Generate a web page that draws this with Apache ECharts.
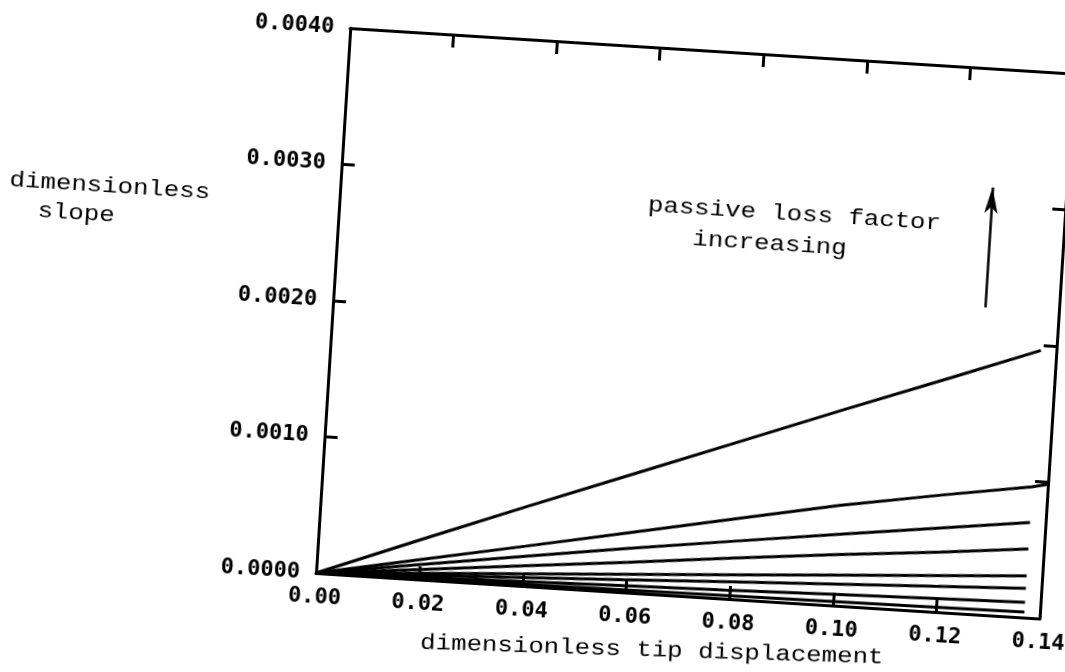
<!DOCTYPE html>
<html>
<head>
<meta charset="utf-8">
<script src="https://cdn.jsdelivr.net/npm/echarts@6/dist/echarts.min.js"></script>
<style>
html, body { margin:0; padding:0; background:#fff; overflow:hidden; width:1065px; height:672px; }
/* the scanned figure is tilted a little, so the whole chart is turned about its origin */
#main { position:absolute; left:-60px; top:-60px; width:1185px; height:792px;
        transform-origin:376px 633px; transform:rotate(3.6deg); }
</style>
</head>
<body>
<div id="main"></div>
<script>
// dimensionless tip displacement
var tipX = [0, 0.02, 0.04, 0.06, 0.08, 0.10, 0.12, 0.137, 0.14];

// dimensionless slope, one curve per passive loss factor (top to bottom)
var loss1 = [0, 0.000295, 0.000585, 0.000870, 0.001155, 0.001440, 0.001720, 0.001960];
var loss2 = [0, 0.000146, 0.000292, 0.000440, 0.000588, 0.000735, 0.000860, 0.000960, 0.000985];
var loss3 = [0, 0.000110, 0.000218, 0.000324, 0.000424, 0.000522, 0.000617, 0.000698];
var loss4 = [0, 0.000074, 0.000148, 0.000222, 0.000300, 0.000373, 0.000440, 0.000503];
var loss5 = [0, 0.000045, 0.000089, 0.000134, 0.000178, 0.000223, 0.000267, 0.000305];
var loss6 = [0, 0.000031, 0.000063, 0.000094, 0.000126, 0.000157, 0.000188, 0.000215];
var loss7 = [0, 0.000016, 0.000033, 0.000049, 0.000065, 0.000082, 0.000098, 0.000112];
var loss8 = [0, 0.000006, 0.000012, 0.000018, 0.000024, 0.000029, 0.000035, 0.000040];
var curves = [loss1, loss2, loss3, loss4, loss5, loss6, loss7, loss8];

// annotation arrow, in data units
var arrowX = 0.1257;
var arrowFrom = 0.00225;
var arrowTo = 0.00313;

var typeFont = '"Liberation Mono", monospace';
var tickFont = '"DejaVu Sans Mono", monospace';

function pairs(ys) {
	return tipX.map(function (x, i) {
		return [x, ys[i] === undefined ? '-' : ys[i]];
	});
}

var myChart = echarts.init(document.getElementById('main'));

var series = curves.map(function (ys, k) {
	var s = {
		type: 'line',
		data: pairs(ys),
		showSymbol: false,
		silent: true,
		connectNulls: false,
		lineStyle: { color: '#000', width: 3 }
	};
	if (k === 0) {
		s.markLine = {
			silent: true,
			symbol: ['none', 'arrow'],
			symbolSize: [10, 26],
			label: { show: false },
			lineStyle: { color: '#000', width: 2.5, type: 'solid' },
			data: [[{ coord: [arrowX, arrowFrom] }, { coord: [arrowX, arrowTo] }]]
		};
	}
	return s;
});

var axisLine = { onZero: false, lineStyle: { color: '#000', width: 3 } };
var inTick = { show: true, inside: true, length: 13, lineStyle: { color: '#000', width: 3 } };

option = {
	backgroundColor: '#fff',
	animation: false,
	grid: { left: 376, top: 87, width: 725, height: 546, outerBoundsMode: 'none' },
	xAxis: [{
		type: 'value', min: 0, max: 0.14, interval: 0.02,
		axisLine: axisLine, axisTick: inTick, splitLine: { show: false },
		axisLabel: {
			color: '#000', fontFamily: tickFont, fontWeight: 'bold', fontSize: 22, margin: 13,
			formatter: function (v) { return v.toFixed(2); }
		}
	}, {
		type: 'value', position: 'top', min: 0, max: 0.14, interval: 0.02,
		axisLine: axisLine, axisTick: inTick, splitLine: { show: false },
		axisLabel: { show: false }
	}],
	yAxis: [{
		type: 'value', min: 0, max: 0.004, interval: 0.001,
		axisLine: axisLine, axisTick: inTick, splitLine: { show: false },
		axisLabel: {
			color: '#000', fontFamily: tickFont, fontWeight: 'bold', fontSize: 22, margin: 16,
			formatter: function (v) { return v.toFixed(4); }
		}
	}, {
		type: 'value', position: 'right', min: 0, max: 0.004, interval: 0.001,
		axisLine: axisLine, axisTick: inTick, splitLine: { show: false },
		axisLabel: { show: false }
	}],
	graphic: [
		{ type: 'text', x: 146, y: 260, scaleX: 1.17, style: { text: 'dimensionless', font: '22px ' + typeFont, fill: '#000', align: 'center', verticalAlign: 'middle' } },
		{ type: 'text', x: 114, y: 289, scaleX: 1.17, style: { text: 'slope', font: '22px ' + typeFont, fill: '#000', align: 'center', verticalAlign: 'middle' } },
		{ type: 'text', x: 716, y: 689, rotation: 0.031, scaleX: 1.17, style: { text: 'dimensionless tip displacement', font: '22px ' + typeFont, fill: '#000', align: 'center', verticalAlign: 'middle' } },
		{ type: 'text', x: 831, y: 245, scaleX: 1.17, style: { text: 'passive loss factor', font: '22px ' + typeFont, fill: '#000', align: 'center', verticalAlign: 'middle' } },
		{ type: 'text', x: 808, y: 276, scaleX: 1.17, style: { text: 'increasing', font: '22px ' + typeFont, fill: '#000', align: 'center', verticalAlign: 'middle' } }
	],
	series: series
};
myChart.setOption(option);
</script>
</body>
</html>
